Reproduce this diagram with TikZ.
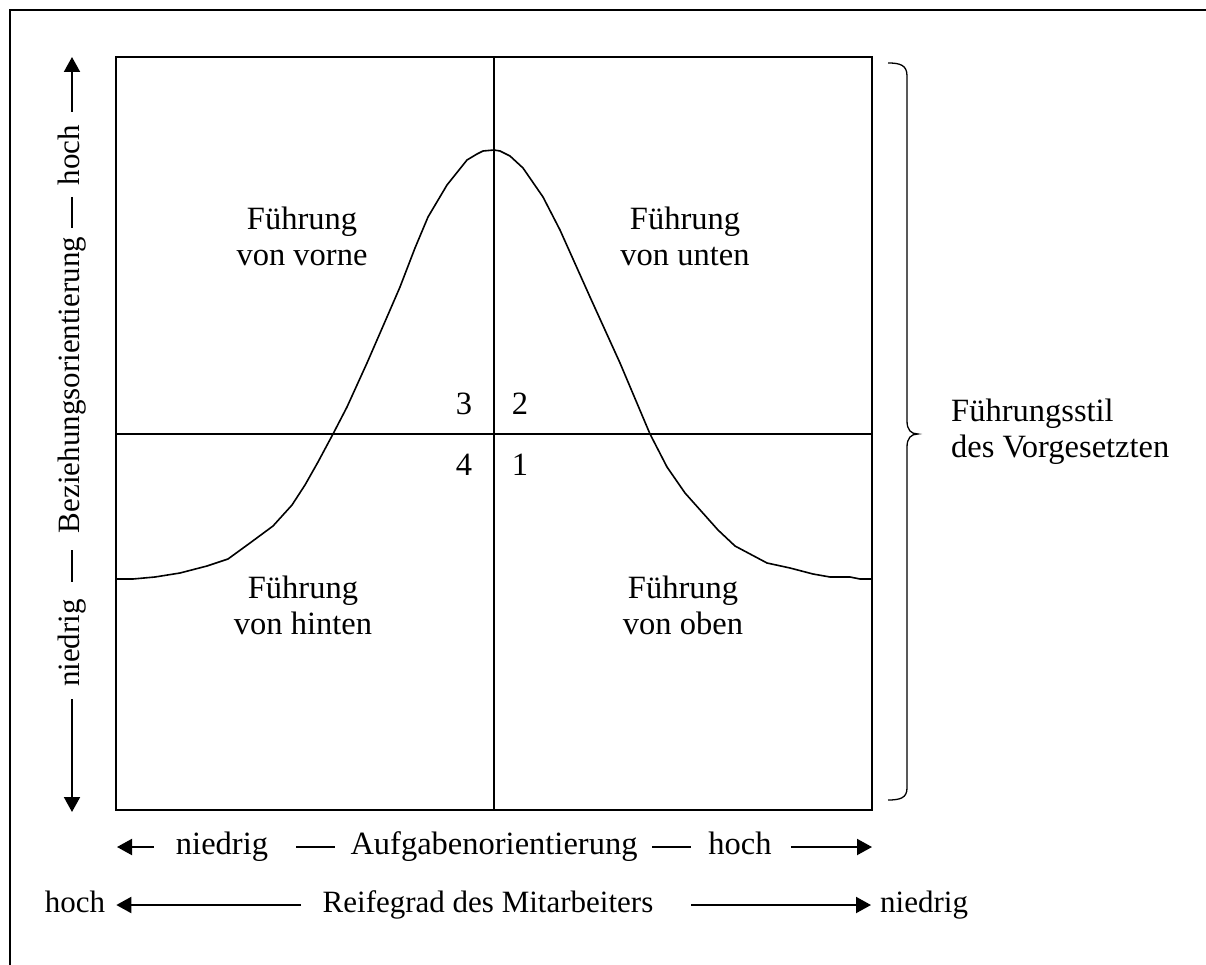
\documentclass[tikz,border=0pt]{standalone}
\usepackage{fontspec}
\setmainfont{Liberation Serif}
\usetikzlibrary{arrows.meta}
\tikzset{
  lbl/.style={inner sep=0pt, font=\fontsize{32.5}{37}\selectfont, text height=22pt, text depth=7pt},
  lbls/.style={inner sep=0pt, font=\fontsize{31}{36}\selectfont, text height=21pt, text depth=7pt},
  quad/.style={inner sep=0pt, font=\fontsize{32.5}{36}\selectfont, align=center},
  boxline/.style={line width=2pt},
  axisline/.style={line width=2pt},
  arr/.style={line width=2pt, -{Triangle[length=15pt,width=16pt]}},
  curveline/.style={line width=1.6pt, line join=round},
  braceline/.style={line width=1.3pt},
}
\begin{document}
\begin{tikzpicture}[x=1pt,y=-1pt]
\useasboundingbox (0,0) rectangle (1206,965);
% outer frame (partly cut by the page)
\draw[line width=2pt] (10,965) -- (10,10) -- (1206,10);
% main box
\coordinate (TL) at (116,57);
\coordinate (BR) at (872,810);
\draw[boxline] (TL) rectangle (BR);
\coordinate (vt) at (494,57);
\coordinate (vb) at (494,810);
\coordinate (hl) at (116,434);
\coordinate (hr) at (872,434);
\draw[boxline] (vt) -- (vb);
\draw[boxline] (hl) -- (hr);
% curve
\draw[curveline] plot coordinates {(117,579) (133,579) (155,577) (180,573) (207,566) (228,559) (250,543) (273,526) (292,505) (305,485) (318,462) (333,434) (347,407) (367,363) (387,317) (400,287) (415,248) (428,217) (447,185) (467,160) (477,154) (483,151) (494,150) (500,151) (510,156) (523,168) (543,197) (560,230) (590,297) (620,363) (650,434) (667,467) (685,493) (718,530) (735,546) (767,563) (790,568) (813,574) (830,577) (850,577) (860,579) (872,579)};
% quadrant labels
\node[quad] (q3) at (302,236) {Führung\\von vorne};
\node[quad] (q2) at (685,236) {Führung\\von unten};
\node[quad] (q4) at (303,605) {Führung\\von hinten};
\node[quad] (q1) at (683,605) {Führung\\von oben};
% numbers
\node[lbl] (n3) at (464,407) {3};
\node[lbl] (n2) at (520,407) {2};
\node[lbl] (n4) at (464,468) {4};
\node[lbl] (n1) at (520,468) {1};
% left axis
\coordinate (upTip) at (72,57);
\coordinate (downTip) at (72,812);
\node[lbls, rotate=90] (yHoch) at (72,155) {hoch};
\node[lbls, rotate=90] (yBez) at (72,385) {Beziehungsorientierung};
\node[lbls, rotate=90] (yNied) at (72,643) {niedrig};
\draw[arr] ([yshift=13pt]yHoch.east) -- (upTip);
\draw[arr] ([yshift=-12pt]yNied.west) -- (downTip);
\coordinate (d1a) at (72,197);
\coordinate (d1b) at (72,228);
\coordinate (d2a) at (72,550);
\coordinate (d2b) at (72,582);
\draw[axisline] (d1a) -- (d1b);
\draw[axisline] (d2a) -- (d2b);
% bottom row 1
\coordinate (r1lTip) at (117,847);
\coordinate (r1rTip) at (872,847);
\node[lbl] (xNied) at (222,847) {niedrig};
\node[lbl] (xAuf) at (494,847) {Aufgabenorientierung};
\node[lbl] (xHoch) at (740,847) {hoch};
\draw[arr] ([xshift=-22pt]xNied.west) -- (r1lTip);
\draw[arr] ([xshift=19pt]xHoch.east) -- (r1rTip);
\coordinate (e1a) at (296,847);
\coordinate (e1b) at (335,847);
\coordinate (e2a) at (652,847);
\coordinate (e2b) at (691,847);
\draw[axisline] (e1a) -- (e1b);
\draw[axisline] (e2a) -- (e2b);
% bottom row 2
\node[lbls] (rHoch) at (75,905) {hoch};
\node[lbls] (rReif) at (488,905) {Reifegrad des Mitarbeiters};
\node[lbls, anchor=west] (rNied) at (880,905) {niedrig};
\coordinate (r2a) at (301,905);
\coordinate (r2b) at (691,905);
\draw[arr] (r2a) -- ([xshift=11pt]rHoch.east);
\draw[arr] (r2b) -- ([xshift=-9pt]rNied.west);
% brace
\coordinate (brTop) at (888,63);
\coordinate (brTip) at (918,434);
\coordinate (brBot) at (888,800);
\draw[braceline] (brTop) .. controls (900,63) and (907,65) .. (907,76) -- (907,421) .. controls (907,430) and (911,434) .. (brTip) .. controls (911,434) and (907,438) .. (907,447) -- (907,788) .. controls (907,798) and (900,800) .. (brBot);
\node[quad, anchor=west, align=left] (style) at (951,432) {Führungsstil\\des Vorgesetzten};
\end{tikzpicture}
\end{document}
